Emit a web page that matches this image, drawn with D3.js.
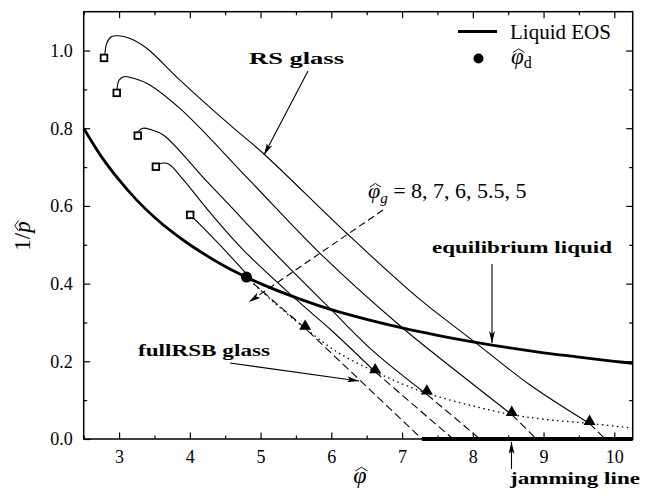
<!DOCTYPE html>
<html>
<head>
<meta charset="utf-8">
<script src="https://cdn.jsdelivr.net/npm/d3@7.9.0/dist/d3.min.js"></script>
<style>
  body { margin: 0; background: #fff; }
  text { font-family: "Liberation Serif", "DejaVu Serif", serif; fill: #000; }
  .bold { font-weight: bold; }
</style>
</head>
<body>
<svg id="chart" width="655" height="498"></svg>
<script>
// liquid equation of state, 1/p against phi
const liquidPhi = [2.5, 2.75, 3, 3.25, 3.5, 3.75, 4, 4.5, 5, 5.5, 6, 6.5, 7, 7.5, 8, 8.5, 9, 9.5, 10, 10.26];
const liquidInvP = [0.80, 0.727, 0.667, 0.615, 0.571, 0.533, 0.50, 0.444, 0.40, 0.364, 0.333, 0.308, 0.286, 0.267, 0.25, 0.235, 0.222, 0.211, 0.20, 0.195];

// dynamical transition point
const phiD = [4.8];
const phiDInvP = [0.417];

// RS glass branches, one per phi_g, from the square to the gardner point
const glassLabels = [8, 7, 6, 5.5, 5];
const glassPhi = [
  [2.787, 2.80, 2.825, 2.896, 2.99, 3.155, 3.39, 3.86, 4.57, 5.04, 6.22, 7.21, 8.01, 8.81, 9.65],
  [2.967, 2.975, 3.0, 3.08, 3.155, 3.39, 3.86, 4.84, 5.84, 7.0, 7.8, 8.55],
  [3.264, 3.28, 3.34, 3.44, 3.63, 4.22, 4.57, 5.16, 5.98, 6.6, 7.35],
  [3.52, 3.54, 3.60, 3.70, 3.91, 4.3, 4.757, 5.51, 6.0, 6.62],
  [4.005, 4.1, 4.5, 4.9]
];
const glassInvP = [
  [0.981, 0.993, 1.019, 1.036, 1.038, 1.031, 1.006, 0.924, 0.808, 0.735, 0.529, 0.366, 0.252, 0.139, 0.04],
  [0.891, 0.907, 0.924, 0.933, 0.931, 0.916, 0.851, 0.667, 0.478, 0.287, 0.17, 0.063],
  [0.781, 0.793, 0.80, 0.797, 0.782, 0.667, 0.60, 0.486, 0.336, 0.225, 0.115],
  [0.701, 0.705, 0.71, 0.708, 0.667, 0.58, 0.4865, 0.358, 0.28, 0.173],
  [0.577, 0.56, 0.485, 0.405]
];

// fullRSB branches, dashed, down to jamming
const rsbPhi = [[9.65, 9.87], [8.55, 8.9], [7.35, 8.1], [6.62, 7.72], [4.9, 5.63, 7.28]];
const rsbInvP = [[0.04, 0], [0.063, 0], [0.115, 0], [0.173, 0], [0.40, 0.285, 0]];

// gardner points (triangles) and the dotted gardner line
const gardnerPhi = [5.63, 6.62, 7.35, 8.55, 9.65];
const gardnerInvP = [0.285, 0.173, 0.118, 0.063, 0.04];
const gardnerLinePhi = [4.8, 5.2, 5.63, 6.1, 6.62, 7.0, 7.35, 8.0, 8.55, 9.0, 9.65, 10.26];
const gardnerLineInvP = [0.417, 0.35, 0.285, 0.222, 0.173, 0.142, 0.118, 0.085, 0.063, 0.051, 0.04, 0.028];

// jamming line on the axis
const jammingPhi = [7.28, 10.26];

const xTicks = [3, 4, 5, 6, 7, 8, 9, 10];
const yTicks = [0.0, 0.2, 0.4, 0.6, 0.8, 1.0];

const svg = d3.select('#chart');
const mLeft = 83.7, mRight = 632.7, mTop = 11.7, mBottom = 439;

const x = d3.scaleLinear().domain([2.5, 10.26]).range([mLeft, mRight]);
const y = d3.scaleLinear().domain([0, 1.1]).range([mBottom, mTop]);

// arrow head marker
svg.append('defs').append('marker')
  .attr('id', 'head')
  .attr('viewBox', '0 0 12 6')
  .attr('refX', 12).attr('refY', 3)
  .attr('markerWidth', 12).attr('markerHeight', 6)
  .attr('markerUnits', 'userSpaceOnUse')
  .attr('orient', 'auto')
  .append('path')
  .attr('d', 'M0,0 L12,3 L0,6 L3,3 Z')
  .attr('fill', '#000');

// axes, ticks pointing inward
function styleAxis(g) {
  g.attr('font-family', null);
  g.select('.domain').remove();
  g.selectAll('line').attr('stroke', '#000').attr('stroke-width', 1.2);
  g.selectAll('text').attr('font-size', 18).attr('fill', '#000');
}
const minorX = d3.range(2.5, 10.3, 0.5).filter(v => !xTicks.includes(v));
const minorY = d3.range(0.1, 1.1, 0.2);

svg.append('g').attr('transform', `translate(0,${mBottom})`)
  .call(d3.axisBottom(x).tickValues(xTicks).tickFormat(d3.format('d')).tickSize(-6.5).tickPadding(11))
  .call(styleAxis);
svg.append('g').attr('transform', `translate(0,${mBottom})`)
  .call(d3.axisBottom(x).tickValues(minorX).tickFormat('').tickSize(-3.5))
  .call(styleAxis);
svg.append('g').attr('transform', `translate(0,${mTop})`)
  .call(d3.axisTop(x).tickValues(xTicks).tickFormat('').tickSize(-6.5))
  .call(styleAxis);
svg.append('g').attr('transform', `translate(0,${mTop})`)
  .call(d3.axisTop(x).tickValues(minorX).tickFormat('').tickSize(-3.5))
  .call(styleAxis);
svg.append('g').attr('transform', `translate(${mLeft},0)`)
  .call(d3.axisLeft(y).tickValues(yTicks).tickFormat(d3.format('.1f')).tickSize(-6.5).tickPadding(11))
  .call(styleAxis);
svg.append('g').attr('transform', `translate(${mLeft},0)`)
  .call(d3.axisLeft(y).tickValues(minorY).tickFormat('').tickSize(-3.5))
  .call(styleAxis);
svg.append('g').attr('transform', `translate(${mRight},0)`)
  .call(d3.axisRight(y).tickValues(yTicks).tickFormat('').tickSize(-6.5))
  .call(styleAxis);
svg.append('g').attr('transform', `translate(${mRight},0)`)
  .call(d3.axisRight(y).tickValues(minorY).tickFormat('').tickSize(-3.5))
  .call(styleAxis);

svg.append('rect')
  .attr('x', mLeft).attr('y', mTop)
  .attr('width', mRight - mLeft).attr('height', mBottom - mTop)
  .attr('fill', 'none').attr('stroke', '#000').attr('stroke-width', 1.5);

const plot = svg.append('g');
const line = d3.line().x(d => x(d[0])).y(d => y(d[1])).curve(d3.curveCatmullRom.alpha(0.5));
const pairs = (xs, ys) => xs.map((v, i) => [v, ys[i]]);

// liquid EOS
plot.append('path')
  .attr('d', line(pairs(liquidPhi, liquidInvP)))
  .attr('fill', 'none').attr('stroke', '#000').attr('stroke-width', 2.8);

// gardner line
plot.append('path')
  .attr('d', line(pairs(gardnerLinePhi, gardnerLineInvP)))
  .attr('fill', 'none').attr('stroke', '#000').attr('stroke-width', 1.3)
  .attr('stroke-dasharray', '1.5,3.5');

// RS glasses
glassPhi.forEach((xs, i) => {
  plot.append('path')
    .attr('d', line(pairs(xs, glassInvP[i])))
    .attr('fill', 'none').attr('stroke', '#000').attr('stroke-width', 1.1);
});

// fullRSB glasses
rsbPhi.forEach((xs, i) => {
  plot.append('path')
    .attr('d', d3.line().x(d => x(d[0])).y(d => y(d[1]))(pairs(xs, rsbInvP[i])))
    .attr('fill', 'none').attr('stroke', '#000').attr('stroke-width', 1.1)
    .attr('stroke-dasharray', '8,4');
});

// jamming line
plot.append('line')
  .attr('x1', x(jammingPhi[0])).attr('x2', x(jammingPhi[1]))
  .attr('y1', y(0)).attr('y2', y(0))
  .attr('stroke', '#000').attr('stroke-width', 4);

// start squares
plot.selectAll('rect.start')
  .data(glassPhi.map((xs, i) => [xs[0], glassInvP[i][0]]))
  .join('rect')
  .attr('x', d => x(d[0]) - 3.3).attr('y', d => y(d[1]) - 3.3)
  .attr('width', 6.6).attr('height', 6.6)
  .attr('fill', '#fff').attr('stroke', '#000').attr('stroke-width', 1.8);

// gardner triangles
plot.selectAll('path.tri')
  .data(pairs(gardnerPhi, gardnerInvP))
  .join('path')
  .attr('transform', d => `translate(${x(d[0])},${y(d[1]) - 2})`)
  .attr('d', d3.symbol(d3.symbolTriangle, 62))
  .attr('fill', '#000');

// phi_d dot
plot.selectAll('circle.pd')
  .data(pairs(phiD, phiDInvP))
  .join('circle')
  .attr('cx', d => x(d[0])).attr('cy', d => y(d[1])).attr('r', 5.5)
  .attr('fill', '#000');

// wide hat over one character of a text
function hat(textSel, idx, fs) {
  const node = textSel.node();
  const p = node.getStartPositionOfChar(idx);
  const e = node.getEndPositionOfChar(idx);
  const w = e.x - p.x;
  const s = 0.06 * fs;
  d3.select(node.parentNode).append('path')
    .attr('d', `M${p.x + 0.05 * w + s},${p.y - 0.5 * fs} L${p.x + 0.5 * w + s},${p.y - 0.66 * fs} L${p.x + 0.95 * w + s},${p.y - 0.5 * fs}`)
    .attr('fill', 'none').attr('stroke', '#000').attr('stroke-width', 0.9);
}

// annotations
function arrow(x1, y1, x2, y2, dash) {
  svg.append('line')
    .attr('x1', x1).attr('y1', y1).attr('x2', x2).attr('y2', y2)
    .attr('stroke', '#000').attr('stroke-width', 1.1)
    .attr('stroke-dasharray', dash || null)
    .attr('marker-end', 'url(#head)');
}
svg.append('text').attr('class', 'bold').attr('x', 249).attr('y', 64)
  .attr('font-size', 17.5).attr('textLength', 95).attr('lengthAdjust', 'spacingAndGlyphs').text('RS glass');
arrow(308, 71, 264, 155);

const gLabel = svg.append('g').append('text').attr('x', 368).attr('y', 198).attr('font-size', 22);
gLabel.append('tspan').attr('font-style', 'italic').text('φ');
gLabel.append('tspan').attr('font-style', 'italic').attr('font-size', 15).attr('dy', 5).text('g');
gLabel.append('tspan').attr('dy', -5).text(' = 8, 7, 6, 5.5, 5');
hat(gLabel, 0, 22);
arrow(383, 210, 249, 302, '7,4');

svg.append('text').attr('class', 'bold').attr('x', 432).attr('y', 253)
  .attr('font-size', 17.5).attr('textLength', 180).attr('lengthAdjust', 'spacingAndGlyphs').text('equilibrium liquid');
arrow(492, 264, 492, 343);

svg.append('text').attr('class', 'bold').attr('x', 138).attr('y', 356)
  .attr('font-size', 17.5).attr('textLength', 132).attr('lengthAdjust', 'spacingAndGlyphs').text('fullRSB glass');
arrow(230, 363, 359, 381);

svg.append('text').attr('class', 'bold').attr('x', 510).attr('y', 484)
  .attr('font-size', 17.5).attr('textLength', 130).attr('lengthAdjust', 'spacingAndGlyphs').text('jamming line');
arrow(511.5, 469, 511.5, 442);

// legend
svg.append('line').attr('x1', 458).attr('x2', 497).attr('y1', 31.5).attr('y2', 31.5)
  .attr('stroke', '#000').attr('stroke-width', 2.8);
svg.append('text').attr('x', 510).attr('y', 39).attr('font-size', 21).text('Liquid EOS');
svg.append('circle').attr('cx', 478.5).attr('cy', 58.5).attr('r', 5).attr('fill', '#000');
const dLabel = svg.append('g').append('text').attr('x', 511).attr('y', 64).attr('font-size', 23);
dLabel.append('tspan').attr('font-style', 'italic').text('φ');
dLabel.append('tspan').attr('font-size', 16).attr('dy', 4).text('d');
hat(dLabel, 0, 23);

// axis titles
const xt = svg.append('g').append('text').attr('x', 360).attr('y', 483).attr('font-size', 24)
  .attr('text-anchor', 'middle').attr('font-style', 'italic').text('φ');
hat(xt, 0, 24);
const yt = svg.append('g').attr('transform', 'translate(30,236) rotate(-90)')
  .append('text').attr('font-size', 23).attr('text-anchor', 'middle');
yt.append('tspan').text('1/');
yt.append('tspan').attr('font-style', 'italic').text('p');
hat(yt, 2, 23);
</script>
</body>
</html>
